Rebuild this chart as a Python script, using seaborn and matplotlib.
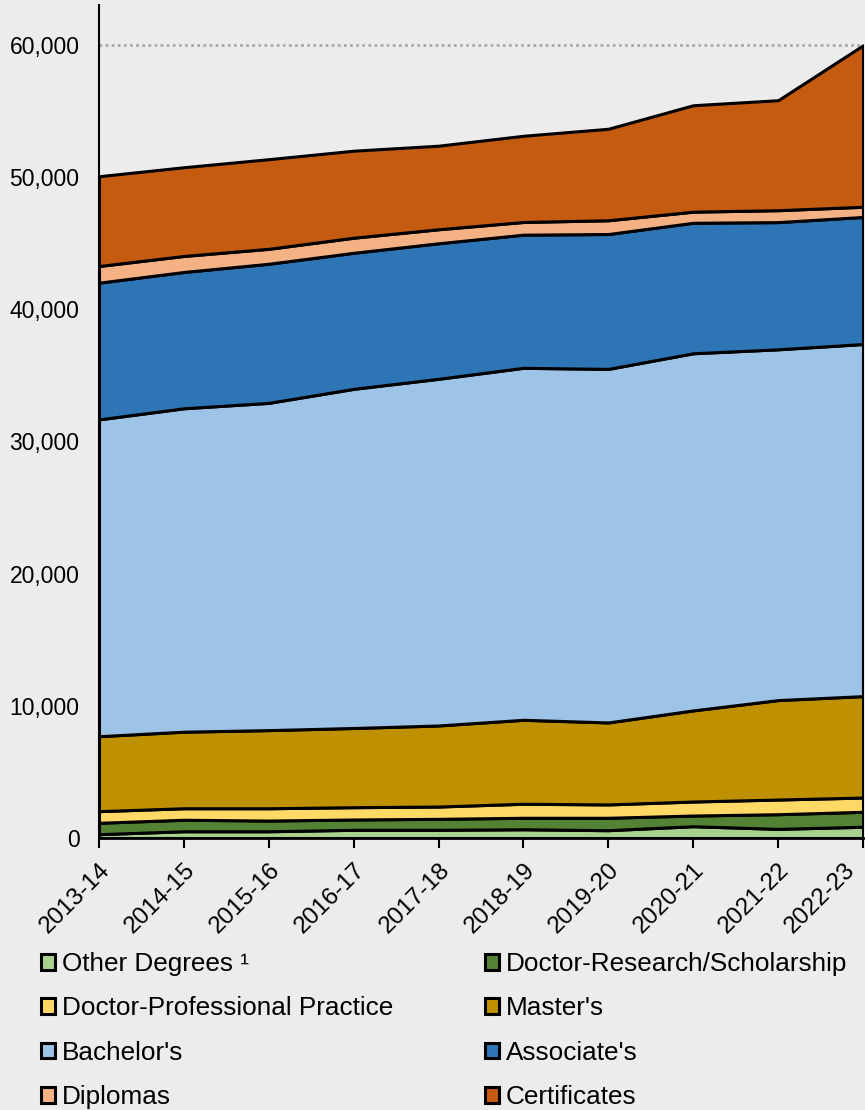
import numpy as np
import matplotlib.pyplot as plt
import matplotlib.transforms as mtransforms
import seaborn as sns

years = ['2013-14', '2014-15', '2015-16', '2016-17', '2017-18',
         '2018-19', '2019-20', '2020-21', '2021-22', '2022-23']

other_degrees = [290, 510, 510, 620, 620, 660, 590, 890, 690, 850]
doctor_research = [860, 870, 810, 780, 830, 870, 940, 810, 1110, 1130]
doctor_professional = [880, 870, 930, 930, 930, 1060, 1010, 1060, 1110, 1080]
masters = [5670, 5790, 5910, 5990, 6130, 6350, 6200, 6890, 7520, 7670]
bachelors = [23960, 24460, 24750, 25650, 26220, 26620, 26740, 27010, 26530, 26630]
associates = [10340, 10310, 10520, 10290, 10250, 10070, 10200, 9870, 9620, 9610]
diplomas = [1260, 1210, 1130, 1140, 1060, 960, 1040, 840, 900, 770]
certificates = [6790, 6710, 6780, 6580, 6320, 6520, 6920, 8050, 8320, 12210]

labels = ['Other Degrees \u00b9', 'Doctor-Research/Scholarship',
          'Doctor-Professional Practice', "Master's", "Bachelor's",
          "Associate's", 'Diplomas', 'Certificates']
colors = ['#A9D18E', '#548235', '#FFD966', '#BF9000', '#9DC3E6',
          '#2E75B6', '#F4B183', '#C55A11']

bg = '#ECECEC'
sns.set_theme(style='ticks', rc={'figure.facecolor': bg, 'axes.facecolor': bg})
plt.rcParams['font.family'] = ['Liberation Sans', 'DejaVu Sans']
plt.rcParams['text.color'] = 'black'

fig = plt.figure(figsize=(8.65, 11.1), dpi=100)
ax = fig.add_axes([99 / 865, 1 - 838 / 1110, 764 / 865, 833 / 1110])

x = np.arange(len(years))
areas = ax.stackplot(x, other_degrees, doctor_research, doctor_professional,
                     masters, bachelors, associates, diplomas, certificates,
                     colors=colors, labels=labels,
                     edgecolor='black', linewidth=2.2)

ax.axhline(60000, color='#aaaaaa', linestyle=(0, (1, 1.2)), linewidth=2, zorder=0)

ax.set_xlim(0, len(years) - 1)
ax.set_ylim(0, 63000)
ax.set_yticks([0, 10000, 20000, 30000, 40000, 50000, 60000])
ax.set_yticklabels([f'{v:,}' for v in ax.get_yticks()])
ax.set_xticks(x)
ax.set_xticklabels(years, rotation=45, ha='right', rotation_mode='anchor')
ax.tick_params(axis='y', length=0, pad=14, labelsize=16.5, labelcolor='black')
ax.tick_params(axis='x', length=7, width=1.5, pad=8, labelsize=17.5,
               color='black', labelcolor='black')
# pull the last rotated label in so it is not clipped at the figure edge
last = ax.get_xticklabels()[-1]
shift = mtransforms.ScaledTranslation(-19 / 100, 0, fig.dpi_scale_trans)
last.set_transform(last.get_transform() + shift)
sns.despine(ax=ax)
ax.spines['left'].set_color('black')
ax.spines['left'].set_linewidth(1.5)
ax.spines['bottom'].set_color('black')
ax.spines['bottom'].set_linewidth(2)
ax.grid(False)

# row-wise order for a 2-column legend
order = [0, 2, 4, 6, 1, 3, 5, 7]
fig.legend([areas[i] for i in order], [labels[i] for i in order],
           ncol=2, loc='upper left', bbox_to_anchor=(41 / 865, 1 - 952 / 1110),
           frameon=False, fontsize=18.8, borderpad=0, borderaxespad=0,
           handlelength=0.54, handleheight=0.56, handletextpad=0.27,
           labelspacing=0.78, columnspacing=3.5)

fig.savefig('out.png', dpi=100, facecolor=bg)
